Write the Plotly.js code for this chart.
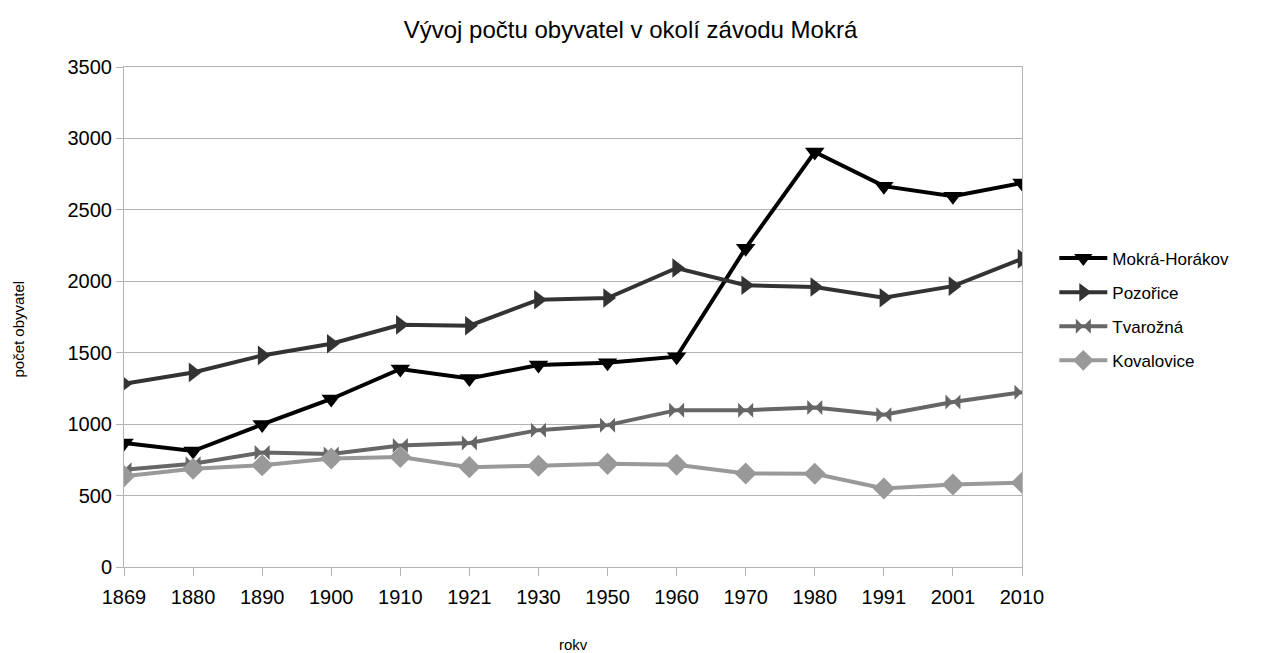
<!DOCTYPE html>
<html>
<head>
<meta charset="utf-8">
<script src="https://cdn.plot.ly/plotly-3.0.1.min.js"></script>
<style>html,body{margin:0;padding:0;background:#fff;}#chart{width:1261px;height:653px;}</style>
</head>
<body>
<div id="chart"></div>
<script>
const years = ["1869","1880","1890","1900","1910","1921","1930","1950","1960","1970","1980","1991","2001","2010"];
const mokraHorakov = [868, 812, 998, 1176, 1386, 1320, 1414, 1430, 1472, 2232, 2905, 2666, 2596, 2688];
const pozorice = [1283, 1362, 1481, 1563, 1695, 1689, 1871, 1883, 2093, 1972, 1960, 1885, 1966, 2157];
const tvarozna = [681, 723, 802, 791, 851, 868, 958, 993, 1098, 1098, 1117, 1066, 1155, 1224];
const kovalovice = [636, 688, 712, 760, 770, 699, 709, 722, 716, 655, 653, 550, 577, 590];

const font = "Liberation Sans, Arial, sans-serif";
function tr(name, y, color, symbol, size, width) {
  return {
    x: years, y: y, name: name, legendgroup: name, type: "scatter", mode: "lines+markers",
    line: {color: color, width: width},
    marker: {symbol: symbol, size: size, color: color}
  };
}
const data = [
  tr("Mokrá-Horákov", mokraHorakov, "#000000", "triangle-down", 17, 4),
  tr("Pozořice", pozorice, "#333333", "triangle-right", 17, 4),
  tr("Tvarožná", tvarozna, "#666666", "bowtie", 15, 4),
  tr("Kovalovice", kovalovice, "#999999", "diamond", 17, 4)
];
const layout = {
  width: 1261, height: 653,
  paper_bgcolor: "#fff", plot_bgcolor: "#fff",
  margin: {l: 124, r: 239, t: 67, b: 86},
  font: {family: font, color: "#000"},
  title: {text: "Vývoj počtu obyvatel v okolí závodu Mokrá", font: {size: 24, family: font, color: "#000"}, x: 0.5, xanchor: "center", y: 0.955, yanchor: "middle"},
  xaxis: {
    type: "category", range: [0, 13],
    showgrid: false, showline: true, linecolor: "#b3b3b3", mirror: true,
    ticks: "outside", ticklen: 8, tickcolor: "#b3b3b3",
    ticklabelstandoff: 4,
    tickfont: {size: 20, family: font, color: "#000"}
  },
  yaxis: {
    range: [0, 3500], dtick: 500, tick0: 0,
    showgrid: true, gridcolor: "#b3b3b3", gridwidth: 1,
    showline: true, linecolor: "#b3b3b3", mirror: true, zeroline: false,
    ticks: "outside", ticklen: 7, tickcolor: "#b3b3b3",
    tickfont: {size: 20, family: font, color: "#000"}
  },
  annotations: [
    {text: "rokv", xref: "paper", yref: "paper", x: 0.5, y: -0.155, xanchor: "center", yanchor: "middle",
     showarrow: false, font: {size: 15, family: font, color: "#000"}},
    {text: "počet obyvatel", xref: "paper", yref: "paper", x: -0.118, y: 0.475, xanchor: "center", yanchor: "middle",
     textangle: -90, showarrow: false, font: {size: 15, family: font, color: "#000"}}
  ],
  legend: {
    x: 1.036, xanchor: "left", y: 0.515, yanchor: "middle",
    font: {size: 17, family: font, color: "#000"},
    itemwidth: 48, tracegroupgap: 9, bgcolor: "rgba(0,0,0,0)"
  },
  showlegend: true
};
Plotly.newPlot("chart", data, layout, {displayModeBar: false, staticPlot: true});
</script>
</body>
</html>
